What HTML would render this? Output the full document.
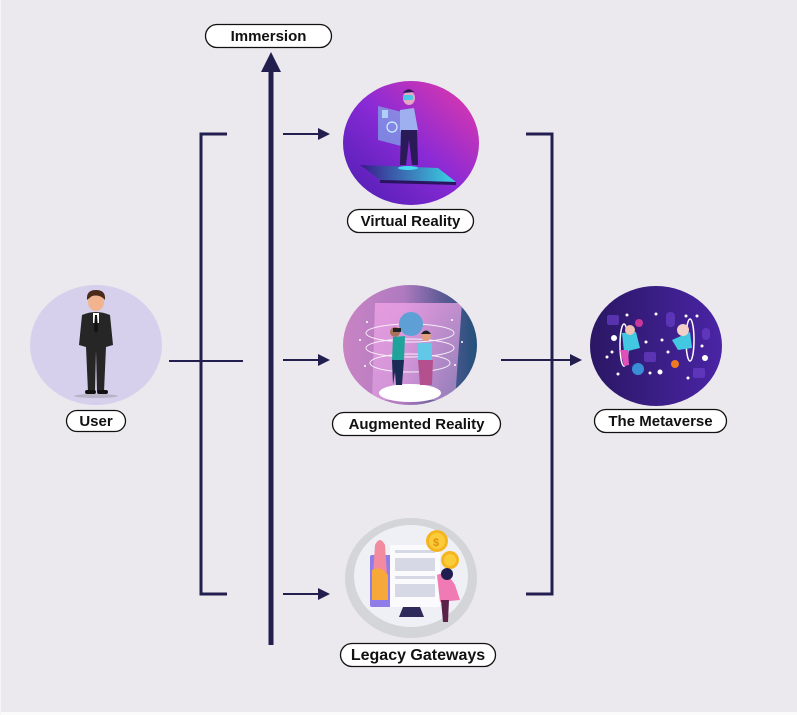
<!DOCTYPE html>
<html><head><meta charset="utf-8"><style>
html,body{margin:0;padding:0;background:#ebe9ee;}
svg{display:block;}
text{font-family:"Liberation Sans",sans-serif;font-weight:bold;font-size:15px;fill:#111;}
</style></head><body>
<svg width="797" height="715" viewBox="0 0 797 715" xmlns="http://www.w3.org/2000/svg">
<defs>
<linearGradient id="vr" x1="0" y1="1" x2="1" y2="0">
<stop offset="0" stop-color="#4a1db0"/><stop offset="0.5" stop-color="#8a2ad6"/><stop offset="1" stop-color="#e83aa6"/>
</linearGradient>
<linearGradient id="ar" x1="0" y1="0" x2="1" y2="0">
<stop offset="0" stop-color="#c884c4"/><stop offset="0.45" stop-color="#b07ac0"/><stop offset="0.75" stop-color="#5a5a94"/><stop offset="1" stop-color="#22507a"/>
</linearGradient>
<linearGradient id="beam" x1="0" y1="0" x2="0" y2="1">
<stop offset="0" stop-color="#f6a6ea" stop-opacity="0.95"/><stop offset="1" stop-color="#f0b0f0" stop-opacity="0.6"/>
</linearGradient>
<linearGradient id="mv" x1="0" y1="0" x2="1" y2="0">
<stop offset="0" stop-color="#2a1764"/><stop offset="1" stop-color="#4a24a6"/>
</linearGradient>
<linearGradient id="plat" x1="0" y1="0" x2="1" y2="0">
<stop offset="0" stop-color="#3a1a8a"/><stop offset="1" stop-color="#3ad6e6"/>
</linearGradient>
<clipPath id="cvr"><ellipse cx="411" cy="143" rx="68" ry="62"/></clipPath>
<clipPath id="car"><ellipse cx="410" cy="345" rx="67" ry="60"/></clipPath>
</defs>
<rect x="0" y="0" width="797" height="715" fill="#ebe9ee"/>
<rect x="0" y="712" width="797" height="3" fill="#fbfbfc"/>
<rect x="0" y="0" width="1" height="715" fill="#f6f6f8"/>

<!-- connectors -->
<g stroke="#221e4e" fill="none">
<polyline points="227,134 201,134 201,594 227,594" stroke-width="3"/>
<polyline points="526,134 552,134 552,594 526,594" stroke-width="3"/>
<line x1="169" y1="361" x2="243" y2="361" stroke-width="2"/>
<line x1="271" y1="645" x2="271" y2="68" stroke-width="5"/>
<line x1="283" y1="134" x2="320" y2="134" stroke-width="2"/>
<line x1="283" y1="360" x2="320" y2="360" stroke-width="2"/>
<line x1="283" y1="594" x2="320" y2="594" stroke-width="2"/>
<line x1="501" y1="360" x2="572" y2="360" stroke-width="2"/>
</g>
<g fill="#221e4e">
<polygon points="271,52 261,72 281,72"/>
<polygon points="330,134 318,128 318,140"/>
<polygon points="330,360 318,354 318,366"/>
<polygon points="330,594 318,588 318,600"/>
<polygon points="582,360 570,354 570,366"/>
</g>

<!-- User -->
<ellipse cx="96" cy="345" rx="66" ry="60" fill="#d6d0ec"/>
<ellipse cx="96" cy="396" rx="22" ry="2" fill="#b8b4c8"/>
<path d="M82,315 Q96,309 110,315 L113,345 L106,347 L104,392 L97,392 L96,350 L95,392 L88,392 L86,347 L79,345 Z" fill="#262626"/>
<rect x="93" y="313" width="6" height="10" fill="#fff"/>
<polygon points="95,315 97,315 98,330 96,333 94,330" fill="#111"/>
<ellipse cx="96" cy="302" rx="8" ry="9" fill="#f1b48f"/>
<path d="M87,300 Q86,290 96,290 Q106,290 105,300 Q100,294 92,296 Z" fill="#4a2a1a"/>
<rect x="85" y="390" width="11" height="4" rx="2" fill="#111"/>
<rect x="97" y="390" width="11" height="4" rx="2" fill="#111"/>

<!-- VR -->
<ellipse cx="411" cy="143" rx="68" ry="62" fill="url(#vr)"/>
<g clip-path="url(#cvr)">
<polygon points="378,106 402,112 401,146 378,140" fill="#7fd0ee" opacity="0.55"/>
<rect x="382" y="110" width="6" height="8" fill="#bff0ff" opacity="0.7"/>
<circle cx="392" cy="127" r="5" fill="none" stroke="#c8f4ff" stroke-width="1.2"/>
<polygon points="360,165 438,168 456,182 380,180" fill="url(#plat)"/>
<polygon points="380,180 456,182 456,185 380,183" fill="#2a1460"/>
<path d="M400,110 L414,108 L418,130 L400,132 Z" fill="#9fb0f0"/>
<path d="M401,130 L417,130 L418,165 L412,165 L409,140 L406,165 L400,165 Z" fill="#2a1a58"/>
<ellipse cx="409" cy="98" rx="6" ry="7" fill="#e6a6c6"/>
<rect x="403" y="95" width="10" height="5" rx="2" fill="#4cc6e6"/>
<path d="M403,93 Q408,86 414,92" fill="#2a1a58"/>
<ellipse cx="408" cy="168" rx="10" ry="2" fill="#46d8ee"/>
</g>

<!-- AR -->
<ellipse cx="410" cy="345" rx="67" ry="60" fill="url(#ar)"/>
<g clip-path="url(#car)">
<polygon points="375,303 462,303 455,400 372,400" fill="url(#beam)" opacity="0.75"/>
<ellipse cx="410" cy="393" rx="31" ry="9" fill="#fff"/>
<g fill="none" stroke="#fff" stroke-width="1" opacity="0.85">
<ellipse cx="410" cy="333" rx="44" ry="9"/>
<ellipse cx="410" cy="348" rx="44" ry="9"/>
<ellipse cx="410" cy="363" rx="40" ry="9"/>
</g>
<circle cx="411" cy="324" r="12" fill="#5ea0d6"/>
<path d="M393,337 L405,336 L404,360 L392,360 Z" fill="#1fa39a"/>
<path d="M392,360 L404,360 L402,385 L396,385 L395,372 L393,385 Z" fill="#1a2c55"/>
<circle cx="395" cy="332" r="5" fill="#a8735a"/>
<rect x="393" y="328" width="8" height="4" fill="#222"/>
<path d="M418,343 L432,343 L432,360 L418,360 Z" fill="#62c8e8"/>
<path d="M418,360 L433,360 L432,385 L420,385 Z" fill="#b5508e"/>
<circle cx="426" cy="336" r="5" fill="#e0a080"/>
<path d="M421,334 Q426,327 431,334" fill="#222"/>
<g fill="#fff"><circle cx="367" cy="322" r="1"/><circle cx="360" cy="340" r="1"/><circle cx="452" cy="320" r="1"/><circle cx="462" cy="342" r="1"/><circle cx="455" cy="365" r="1"/><circle cx="365" cy="366" r="1"/></g>
</g>

<!-- Metaverse -->
<ellipse cx="656" cy="346" rx="66" ry="60" fill="url(#mv)"/>
<g fill="#6a3ec8" opacity="0.7">
<rect x="607" y="315" width="12" height="10" rx="2"/><rect x="666" y="312" width="9" height="15" rx="4"/><rect x="702" y="328" width="8" height="12" rx="4"/><rect x="644" y="352" width="12" height="10" rx="2"/><rect x="693" y="368" width="12" height="10" rx="2"/>
</g>
<ellipse cx="624" cy="345" rx="4" ry="21" fill="none" stroke="#fff" stroke-width="1.5"/>
<ellipse cx="690" cy="340" rx="4" ry="21" fill="none" stroke="#fff" stroke-width="1.5"/>
<path d="M622,333 L636,332 L640,348 L624,352 Z" fill="#42c8e0"/>
<path d="M620,350 L628,350 L629,365 L624,366 Z" fill="#e050b8"/>
<circle cx="630" cy="330" r="5" fill="#f0c0b0"/>
<path d="M672,340 L690,332 L692,348 L678,350 Z" fill="#42c8e0"/>
<circle cx="683" cy="330" r="6" fill="#f0d0c8"/>
<circle cx="639" cy="323" r="4" fill="#c8389a"/>
<circle cx="638" cy="369" r="6" fill="#3a8ed6"/>
<circle cx="675" cy="364" r="4" fill="#f07a20"/>
<g fill="#fff">
<circle cx="627" cy="315" r="1.5"/><circle cx="656" cy="314" r="1.5"/><circle cx="686" cy="316" r="1.5"/><circle cx="697" cy="316" r="1.5"/><circle cx="614" cy="338" r="3"/><circle cx="612" cy="352" r="1.5"/><circle cx="618" cy="374" r="1.5"/><circle cx="650" cy="373" r="1.5"/><circle cx="660" cy="372" r="2.5"/><circle cx="705" cy="358" r="3"/><circle cx="688" cy="378" r="1.5"/><circle cx="702" cy="346" r="1.5"/><circle cx="662" cy="340" r="1.5"/><circle cx="646" cy="342" r="1.5"/><circle cx="668" cy="352" r="1.5"/><circle cx="607" cy="357" r="1.5"/>
</g>

<!-- Legacy -->
<ellipse cx="411" cy="578" rx="66" ry="60" fill="#d4d5d8"/>
<ellipse cx="411" cy="576" rx="57" ry="51" fill="#eef0f5"/>
<rect x="370" y="555" width="70" height="52" rx="2" fill="#8f7ce8"/>
<polygon points="403,607 420,607 424,617 399,617" fill="#2e2a5a"/>
<path d="M375,545 Q380,535 385,545 L388,590 L372,590 Z" fill="#f28aa0"/>
<path d="M372,570 Q380,565 388,575 L388,600 L372,600 Z" fill="#f6a838"/>
<rect x="390" y="545" width="50" height="62" fill="#fbfbfd"/>
<g fill="#d6d8e6"><rect x="395" y="550" width="40" height="3"/><rect x="395" y="558" width="40" height="13"/><rect x="395" y="576" width="40" height="3"/><rect x="395" y="584" width="40" height="13"/></g>
<circle cx="437" cy="541" r="11" fill="#f6b520"/>
<circle cx="437" cy="541" r="8" fill="#fbcc3a"/>
<text x="433" y="546" style="font-size:11px;fill:#e09010">$</text>
<circle cx="450" cy="560" r="9" fill="#f6b520"/>
<circle cx="450" cy="560" r="6" fill="#fbcc3a"/>
<path d="M437,575 Q446,570 455,585 L460,600 L440,602 Z" fill="#f07ab4"/>
<path d="M441,600 L449,600 L448,622 L443,622 Z" fill="#5a2248"/>
<circle cx="447" cy="574" r="6" fill="#1e1e50"/>

<!-- labels -->
<g fill="#fff" stroke="#111" stroke-width="1.3">
<rect x="205.5" y="24.5" width="126" height="23" rx="11.5"/>
<rect x="347.5" y="209.5" width="126" height="23" rx="11.5"/>
<rect x="66.5" y="410.5" width="59" height="21" rx="10.5"/>
<rect x="332.5" y="412.5" width="168" height="23" rx="11.5"/>
<rect x="594.5" y="409.5" width="132" height="23" rx="11.5"/>
<rect x="340.5" y="643.5" width="155" height="23" rx="11.5"/>
</g>
<text x="268.5" y="41" text-anchor="middle">Immersion</text>
<text x="410.5" y="226" text-anchor="middle">Virtual Reality</text>
<text x="96" y="426" text-anchor="middle">User</text>
<text x="416.5" y="429" text-anchor="middle">Augmented Reality</text>
<text x="660.5" y="426" text-anchor="middle">The Metaverse</text>
<text x="418" y="660" text-anchor="middle" style="font-size:16px">Legacy Gateways</text>
</svg>
</body></html>
